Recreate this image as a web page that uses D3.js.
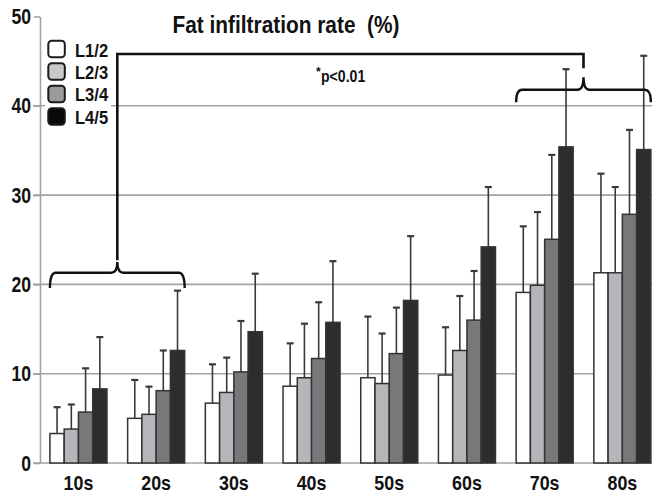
<!DOCTYPE html>
<html><head><meta charset="utf-8">
<script src="https://cdn.jsdelivr.net/npm/d3@7"></script>
<style>
html,body{margin:0;padding:0;background:#fff;}
svg{display:block;}
text{font-family:"Liberation Sans",Arial,sans-serif;font-weight:bold;fill:#111;}
</style></head>
<body><svg id="c" width="652" height="495"></svg>
<script>
const groups = ["10s","20s","30s","40s","50s","60s","70s","80s"];
const series = ["L1/2","L2/3","L3/4","L4/5"];
const meanL12 = [3.3, 5.0, 6.7, 8.6, 9.55, 9.85, 19.1, 21.3];
const meanL23 = [3.8, 5.45, 7.9, 9.55, 8.9, 12.6, 19.9, 21.3];
const meanL34 = [5.7, 8.1, 10.2, 11.7, 12.25, 16.0, 25.05, 27.85];
const meanL45 = [8.3, 12.6, 14.7, 15.75, 18.2, 24.2, 35.4, 35.1];
const errTopL12 = [6.25, 9.3, 11.05, 13.4, 16.4, 15.2, 26.5, 32.4];
const errTopL23 = [6.55, 8.55, 11.8, 15.6, 14.5, 18.7, 28.1, 30.9];
const errTopL34 = [10.6, 12.6, 15.9, 18.0, 17.4, 21.5, 34.5, 37.3];
const errTopL45 = [14.1, 19.3, 21.2, 22.6, 25.4, 30.9, 44.1, 45.6];
const yTicks = [0, 10, 20, 30, 40, 50];
const gridValues = [0, 10, 20, 30, 40];
const fills = ["#ffffff", "#b5b6b9", "#77787a", "#2e2c2d"];
const legendFills = ["#ffffff", "#c9c9c9", "#9b9b9b", "#080808"];
const titleText = "Fat infiltration rate\u00a0 (%)";
const pText = "p<0.01";

const means = [meanL12, meanL23, meanL34, meanL45];
const tops = [errTopL12, errTopL23, errTopL34, errTopL45];

function condense(sel, k) {
  sel.each(function () {
    const w = this.getComputedTextLength();
    d3.select(this).attr("textLength", w * k).attr("lengthAdjust", "spacingAndGlyphs");
  });
}

const svg = d3.select("#c");
const y = d3.scaleLinear().domain([0, 50]).range([463, 16.5]);
const x = d3.scaleBand().domain(groups).range([39.6, 661.2]).paddingInner(0.266).paddingOuter(0.133);
const xs = d3.scaleBand().domain(series).range([0, x.bandwidth()]);

// gridlines
svg.append("g").selectAll("line").data(gridValues).join("line")
  .attr("x1", 33).attr("x2", 652)
  .attr("y1", d => y(d)).attr("y2", d => y(d))
  .attr("stroke", "#a3a3a3").attr("stroke-width", 1.6);

// y axis
const yAxis = svg.append("g").attr("transform", "translate(40,0)")
  .call(d3.axisLeft(y).tickValues(yTicks).tickSize(6).tickSizeOuter(0).tickPadding(3));
yAxis.select(".domain").attr("stroke", "#a3a3a3").attr("stroke-width", 1.6);
yAxis.selectAll(".tick line").attr("stroke", "#a3a3a3").attr("stroke-width", 1.6);
yAxis.selectAll(".tick text").style("font-size", "22px").attr("fill", "#111")
  .style("font-family", "'Liberation Sans',Arial,sans-serif").style("font-weight", "bold")
  .call(condense, 0.8);

// x labels
const xAxis = svg.append("g").attr("transform", "translate(0,463)")
  .call(d3.axisBottom(x).tickSize(0).tickPadding(12));
xAxis.select(".domain").remove();
xAxis.selectAll(".tick text").style("font-size", "21px").attr("fill", "#111")
  .style("font-family", "'Liberation Sans',Arial,sans-serif").style("font-weight", "bold")
  .call(condense, 0.85);

// data rows
const rows = [];
groups.forEach((g, gi) => series.forEach((s, si) => rows.push({g, s, si, v: means[si][gi], t: tops[si][gi]})));

// error bars (behind bars)
const eb = svg.append("g");
eb.selectAll("line.v").data(rows).join("line").attr("class", "v")
  .attr("x1", d => x(d.g) + xs(d.s) + xs.bandwidth() / 2)
  .attr("x2", d => x(d.g) + xs(d.s) + xs.bandwidth() / 2)
  .attr("y1", d => y(d.v)).attr("y2", d => y(d.t))
  .attr("stroke", "#3a3a3a").attr("stroke-width", 1.6);
eb.selectAll("line.c").data(rows).join("line").attr("class", "c")
  .attr("x1", d => x(d.g) + xs(d.s) + xs.bandwidth() / 2 - 3.5)
  .attr("x2", d => x(d.g) + xs(d.s) + xs.bandwidth() / 2 + 3.5)
  .attr("y1", d => y(d.t)).attr("y2", d => y(d.t))
  .attr("stroke", "#3a3a3a").attr("stroke-width", 2.2);

// bars
svg.append("g").selectAll("rect").data(rows).join("rect")
  .attr("x", d => x(d.g) + xs(d.s))
  .attr("width", xs.bandwidth())
  .attr("y", d => y(d.v))
  .attr("height", d => y(0) - y(d.v))
  .attr("fill", d => fills[d.si])
  .attr("stroke", "#333").attr("stroke-width", 1.5);

// braces
function brace(x0, x1, yEnd, yLine, yTip) {
  const xm = (x0 + x1) / 2, r = 6;
  return `M${x0},${yEnd} Q${x0},${yLine} ${x0 + r},${yLine} L${xm - r},${yLine} Q${xm},${yLine} ${xm},${yTip}`
    + ` Q${xm},${yLine} ${xm + r},${yLine} L${x1 - r},${yLine} Q${x1},${yLine} ${x1},${yEnd}`;
}
const bx0 = x("10s"), bx1 = x("20s") + x.bandwidth();
const cx0 = x("70s"), cx1 = x("80s") + x.bandwidth();
const lb = svg.append("g").attr("fill", "none").attr("stroke", "#111").attr("stroke-width", 2.4);
lb.append("path").attr("d", brace(bx0, bx1, y(19.6), y(21.3), y(22.5)));
lb.append("path").attr("d", brace(cx0, cx1, y(40.4), y(41.8), y(43.2)));
const lx = (bx0 + bx1) / 2, rx = (cx0 + cx1) / 2;
lb.append("path").attr("d", `M${lx},${y(22.7)} L${lx},${y(45.8)} L${rx},${y(45.8)} L${rx},${y(44.2)}`)
  .attr("stroke-width", 2.6);

// p text
svg.append("text").attr("x", 316).attr("y", 76).style("font-size", "12px").text("*");
svg.append("text").attr("x", 321).attr("y", 81.5).style("font-size", "16px").text(pText)
  .call(condense, 0.88);

// title
svg.append("text").attr("x", 172.5).attr("y", 33.3)
  .style("font-size", "23px").text(titleText)
  .attr("textLength", 227).attr("lengthAdjust", "spacingAndGlyphs");

// legend
const lg = svg.append("g");
lg.append("rect").attr("x", 45).attr("y", 38).attr("width", 66).attr("height", 90).attr("fill", "#fff");
series.forEach((s, i) => {
  lg.append("rect").attr("x", 48.3).attr("y", 40.7 + i * 22.5).attr("width", 16.5).attr("height", 16.5)
    .attr("rx", 3.5).attr("fill", legendFills[i]).attr("stroke", "#1a1a1a").attr("stroke-width", 2);
  lg.append("text").attr("x", 75).attr("y", 56.7 + i * 22.3).style("font-size", "19px").text(s)
    .call(condense, 0.87);
});
</script></body></html>
